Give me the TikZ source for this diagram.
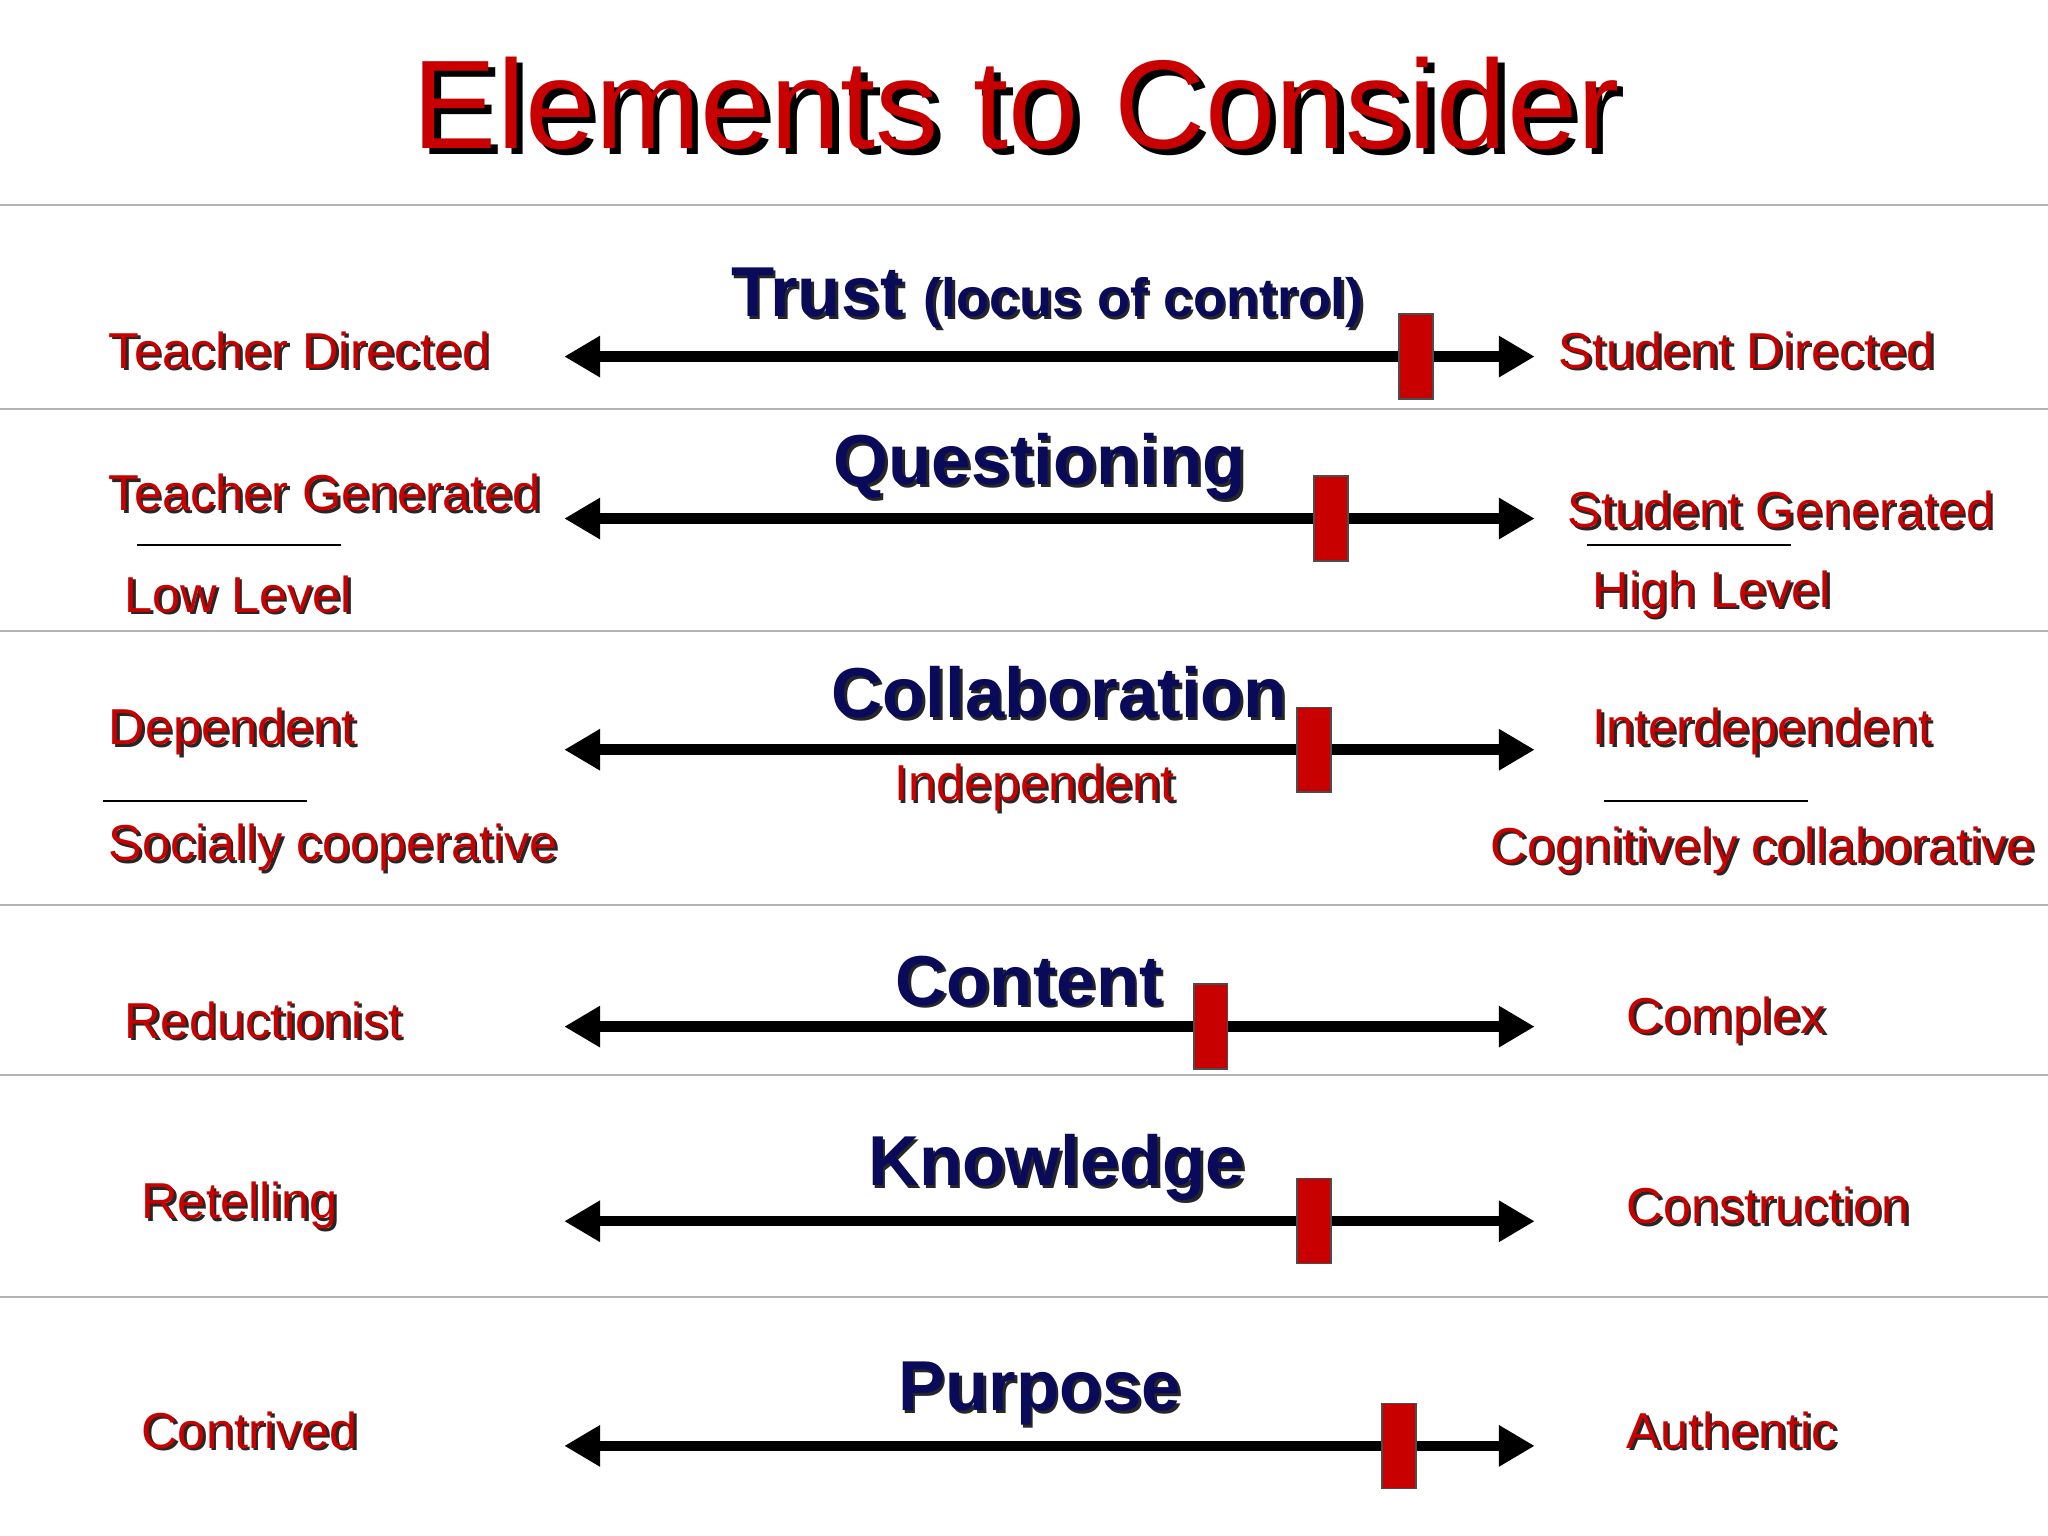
\documentclass[tikz,border=0pt]{standalone}
\usepackage{fontspec}
\setmainfont{Liberation Sans}
\usetikzlibrary{arrows.meta,calc}
\definecolor{tred}{RGB}{200,0,0}
\definecolor{navy}{RGB}{10,10,90}
\tikzset{
 lab/.style={font=\fontsize{22}{25}\selectfont,text=tred,inner sep=0pt},
 head/.style={font=\fontsize{30.8}{35}\selectfont\bfseries,text=navy,inner sep=0pt},
 sep/.style={draw=gray!60,line width=0.6pt},
 ax/.style={line width=0.16cm,{Triangle[length=0.55cm,width=0.6cm]}-{Triangle[length=0.55cm,width=0.6cm]}},
 mark box/.style={fill=tred,draw=black!70,line width=0.6pt,minimum width=0.52cm,minimum height=1.3cm,inner sep=0pt},
 uline/.style={draw=black,line width=0.8pt}
}
\newcommand\shtxt[5]{% name, style, anchor, pos, text
 \node[#2,anchor=#3,text=black!85] (#1s) at ($(#4)+(2,2)$) {#5};
 \node[#2,anchor=#3] (#1) at (#4) {#5};}
\begin{document}
\begin{tikzpicture}[x=0.02cm,y=-0.02cm]
\useasboundingbox[fill=white] (0,0) rectangle (1568,1176);
% title
\node[font=\fontsize{55}{60}\selectfont,text=black,inner sep=0pt] (titles) at (783,84) {Elements to Consider};
\node[font=\fontsize{55}{60}\selectfont,text=tred,inner sep=0pt] (title) at (778,79) {Elements to Consider};
% separators
\foreach \y/\n in {157/a,313/b,483/c,693/d,823/e,993/f}{
 \coordinate (sl\n) at (0,\y); \coordinate (sr\n) at (1568,\y);
 \draw[sep] (sl\n) -- (sr\n);}
% axes and markers
\foreach \y/\m/\n in {273/1084/1,397/1019/2,574/1006/3,786/927/4,935/1006/5,1107/1071/6}{
 \coordinate (L\n) at (432,\y); \coordinate (R\n) at (1175,\y);
 \draw[ax] (L\n) -- (R\n);
 \node[mark box] (M\n) at (\m,\y) {};}
% headings
\shtxt{h1}{head}{center}{802,228}{Trust {\fontsize{23.5}{28}\selectfont(locus of control)}}
\shtxt{h2}{head}{center}{796,357}{Questioning}
\shtxt{h3}{head}{center}{811,530}{Collaboration}
\shtxt{h4}{head}{center}{788,751}{Content}
\shtxt{h5}{head}{center}{809,894}{Knowledge}
\shtxt{h6}{head}{center}{796,1067}{Purpose}
% labels
\shtxt{a1}{lab}{west}{83,268}{Teacher Directed}
\shtxt{b1}{lab}{west}{1193,268}{Student Directed}
\shtxt{a2}{lab}{west}{83,377}{Teacher Generated}
\shtxt{a2b}{lab}{west}{95,455}{Low Level}
\shtxt{b2}{lab}{west}{1200,390}{Student Generated}
\shtxt{b2b}{lab}{west}{1219,455}{High Level}
\coordinate (u1a) at (105,417); \coordinate (u1b) at (261,417); \draw[uline] (u1a)--(u1b);
\coordinate (u2a) at (1215,417); \coordinate (u2b) at (1371,417); \draw[uline] (u2a)--(u2b);
\shtxt{a3}{lab}{west}{83,560}{Dependent}
\shtxt{a3b}{lab}{west}{83,649}{Socially cooperative}
\shtxt{b3}{lab}{west}{1219,560}{Interdependent}
\shtxt{b3b}{lab}{west}{1141,651}{Cognitively collaborative}
\shtxt{c3}{lab}{center}{792,603}{Independent}
\coordinate (u3a) at (79,613); \coordinate (u3b) at (235,613); \draw[uline] (u3a)--(u3b);
\coordinate (u4a) at (1228,613); \coordinate (u4b) at (1384,613); \draw[uline] (u4a)--(u4b);
\shtxt{a4}{lab}{west}{95,781}{Reductionist}
\shtxt{b4}{lab}{west}{1245,781}{Complex}
\shtxt{a5}{lab}{west}{108,923}{Retelling}
\shtxt{b5}{lab}{west}{1245,923}{Construction}
\shtxt{a6}{lab}{west}{108,1095}{Contrived}
\shtxt{b6}{lab}{west}{1245,1095}{Authentic}
\end{tikzpicture}
\end{document}
